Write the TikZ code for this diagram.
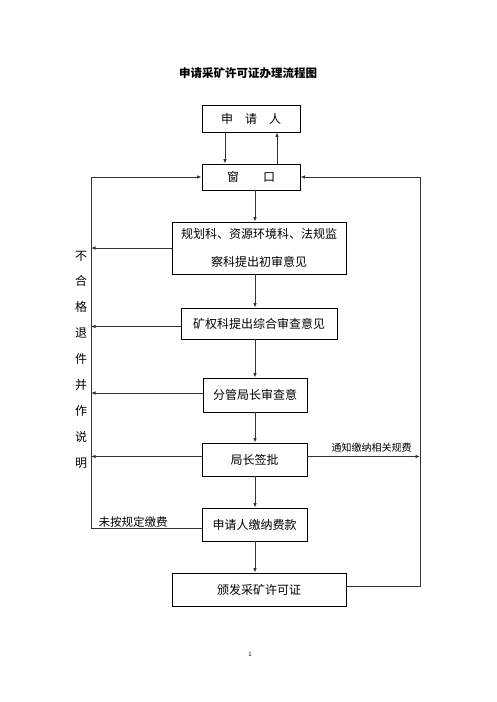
\documentclass[tikz,border=0pt]{standalone}
\usepackage{fontspec}
\setmainfont{Noto Sans CJK SC}
\usetikzlibrary{arrows.meta}
\tikzset{
  box/.style={draw=black, line width=0.8pt, inner sep=0pt, align=center, font=\fontsize{12}{14}\selectfont},
  conn/.style={draw=black!80, line width=1pt},
  arr/.style={conn, -{Latex[length=4.5pt,width=3.5pt]}},
  lbl/.style={inner sep=0.5pt, font=\fontsize{10}{12}\selectfont}
}
\begin{document}
\begin{tikzpicture}[x=1pt,y=-1pt]
\useasboundingbox (0,0) rectangle (496,702);
\node[font=\fontsize{11.5}{13}\selectfont\bfseries] (title) at (248,73) {申请采矿许可证办理流程图};
\node[box, minimum width=98, minimum height=27] (apply) at (251,118.5) {申　请　人};
\node[box, minimum width=98, minimum height=26] (win) at (251,177) {窗　　口};
\node[box, minimum width=174, minimum height=52, font=\fontsize{12}{28}\selectfont] (plan) at (259,248) {规划科、资源环境科、法规监\\察科提出初审意见};
\node[box, minimum width=156, minimum height=31] (kq) at (259,323.5) {矿权科提出综合审查意见};
\node[box, minimum width=104, minimum height=34] (fg) at (255,395) {分管局长审查意};
\node[box, minimum width=105, minimum height=33] (jz) at (254.5,459.5) {局长签批};
\node[box, minimum width=105, minimum height=33] (pay) at (254.5,524.5) {申请人缴纳费款};
\node[box, minimum width=174, minimum height=33] (issue) at (259,589.5) {颁发采矿许可证};
\node[align=center, inner sep=0pt, font=\fontsize{12}{25.9}\selectfont] (side) at (81,359.5) {不\\合\\格\\退\\件\\并\\作\\说\\明};
\node[inner sep=0pt, font=\fontsize{6}{7}\selectfont] (pg) at (250,654) {1};
\coordinate (L) at (91,177);
\coordinate (R) at (420,177);
\coordinate (V) at (255,0);
% applicant <-> window
\draw[arr] ([xshift=-26pt]apply.south) -- ([xshift=-26pt]win.north);
\draw[arr] ([xshift=26pt]win.north) -- ([xshift=26pt]apply.south);
% main chain
\draw[arr] (win.south -| V) -- (plan.north -| V);
\draw[arr] (plan.south -| V) -- (kq.north -| V);
\draw[arr] (kq.south -| V) -- (fg.north -| V);
\draw[arr] (fg.south -| V) -- (jz.north -| V);
\draw[arr] (jz.south -| V) -- (pay.north -| V);
\draw[arr] (pay.south -| V) -- (issue.north -| V);
% rejections
\draw[arr] (plan.west) -- (plan.west -| L);
\draw[arr] ([yshift=-3pt]kq.west) -- ([yshift=-3pt]kq.west -| L);
\draw[arr] ([yshift=2pt]fg.west) -- ([yshift=2pt]fg.west -| L);
\draw[arr] ([yshift=3pt]jz.west) -- ([yshift=3pt]jz.west -| L);
\draw[arr] ([yshift=3pt]jz.east) -- ([yshift=3pt]jz.east -| R) node[lbl, pos=0.57, above=3pt] {通知缴纳相关规费};
% unpaid loop
\draw[arr] ([yshift=-3.5pt]pay.west) -- ([yshift=-3.5pt]pay.west -| L) node[lbl, pos=0.62, anchor=south, font=\fontsize{11.5}{13}\selectfont] {未按规定缴费} -- (win.west -| L) -- (win.west);
% issue loop
\draw[arr] ([yshift=3.5pt]issue.east) -- ([yshift=3.5pt]issue.east -| R) -- (win.east -| R) -- (win.east);
\end{tikzpicture}
\end{document}
